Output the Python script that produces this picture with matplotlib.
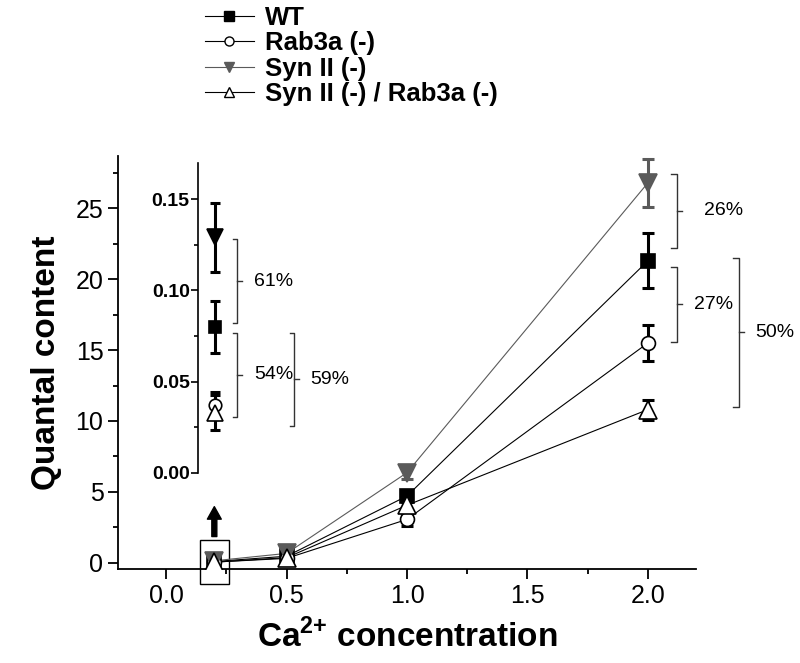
import matplotlib
matplotlib.use('Agg')
import matplotlib.pyplot as plt
from matplotlib.lines import Line2D
from matplotlib.patches import Rectangle

plt.rcParams['font.family'] = ['Liberation Sans', 'DejaVu Sans']
plt.rcParams['mathtext.fontset'] = 'custom'
plt.rcParams['mathtext.rm'] = 'Liberation Sans'
plt.rcParams['mathtext.bf'] = 'Liberation Sans:bold'

# Ca2+ concentration (mM)
conc = [0.2, 0.5, 1.0, 2.0]

labels = ['WT', 'Rab3a (-)', 'Syn II (-)', 'Syn II (-) / Rab3a (-)']
wt = [0.080, 0.45, 4.7, 21.3]
wt_err = [0.0143, 0.2, 0.45, 1.95]
rab = [0.037, 0.30, 3.05, 15.5]
rab_err = [0.0075, 0.15, 0.45, 1.3]
syn = [0.129, 0.65, 6.35, 26.8]
syn_err = [0.019, 0.35, 0.45, 1.7]
dko = [0.033, 0.35, 4.05, 10.8]
dko_err = [0.0097, 0.25, 0.3, 0.7]

# percent brackets: (label, y_low, y_high)
main_brackets = [('26%', 22.2, 27.45), ('27%', 15.6, 20.86), ('50%', 11.0, 21.5)]
inset_brackets = [('61%', 0.082, 0.128), ('54%', 0.0307, 0.0768), ('59%', 0.0256, 0.0768)]

gray = '#5a5a5a'
series = [
    (wt, wt_err, dict(marker='s', mfc='k', mec='k', ms=9.5), 'k'),
    (rab, rab_err, dict(marker='o', mfc='white', mec='k', ms=10), 'k'),
    (syn, syn_err, dict(marker='v', mfc=gray, mec=gray, ms=13), gray),
    (dko, dko_err, dict(marker='^', mfc='white', mec='k', ms=13), 'k'),
]

fig = plt.figure(figsize=(8, 6.63), dpi=100)
ax = fig.add_axes([0.1475, 0.1418, 0.7225, 0.6229])

for vals, errs, mk, c in series:
    ax.plot(conc, vals, color=c, lw=0.8, zorder=2)
for vals, errs, mk, c in series:
    ax.errorbar(conc, vals, yerr=errs, fmt='none', ecolor=c, elinewidth=2.2,
                capsize=4, capthick=2.2, zorder=3)
    ax.plot(conc, vals, linestyle='none', mew=1.2, zorder=4, **mk)

ax.set_xlim(-0.2, 2.2)
ax.set_ylim(-0.45, 28.7)
ax.set_xticks([0.0, 0.5, 1.0, 1.5, 2.0])
ax.set_xticks([0.25, 0.75, 1.25, 1.75], minor=True)
ax.set_yticks([0, 5, 10, 15, 20, 25])
ax.set_yticks([2.5, 7.5, 12.5, 17.5, 22.5, 27.5], minor=True)
ax.set_xticklabels(['0.0', '0.5', '1.0', '1.5', '2.0'])
for s in ['top', 'right']:
    ax.spines[s].set_visible(False)
for s in ['left', 'bottom']:
    ax.spines[s].set_linewidth(1.3)
ax.tick_params(which='major', length=7, width=1.3, labelsize=18, direction='out')
ax.tick_params(which='minor', length=3.5, width=1.3, direction='out')
ax.set_xlabel(r'Ca$^{\mathbf{2{+}}}$ concentration', fontsize=24, fontweight='bold', labelpad=8)
ax.set_ylabel('Quantal content', fontsize=24, fontweight='bold', labelpad=10)

# zoom box and arrow at the lowest concentration
ax.add_patch(Rectangle((0.141, -1.5), 0.121, 3.07, fill=False, lw=1, ec='k', clip_on=False))
ax.annotate('', xy=(0.2, 3.95), xytext=(0.2, 1.84),
            arrowprops=dict(facecolor='k', edgecolor='k', width=3.6, headwidth=10,
                            headlength=9, shrink=0))

def bracket(a, x, y0, y1, arm, tick, text, tx, fs=14):
    a.plot([x - arm, x, x, x - arm], [y0, y0, y1, y1], color='#333333', lw=1, clip_on=False)
    ym = (y0 + y1) / 2
    a.plot([x, x + tick], [ym, ym], color='#333333', lw=1, clip_on=False)
    a.text(tx, ym, text, ha='left', va='center', fontsize=fs, clip_on=False)

bx = [2.12, 2.12, 2.38]
btx = [2.232, 2.19, 2.445]
for (t, y0, y1), x, tx in zip(main_brackets, bx, btx):
    bracket(ax, x, y0, y1, 0.025, 0.02, t, tx)

# inset with the 0.2 mM values
ins = fig.add_axes([198 / 800, 1 - 472.7 / 663, 0.25, 310 / 663])
ins.patch.set_visible(False)
ins.set_xlim(0, 1)
ins.set_ylim(0, 0.17)
for s in ['top', 'right', 'bottom']:
    ins.spines[s].set_visible(False)
ins.spines['left'].set_linewidth(1.2)
ins.set_xticks([])
ins.set_yticks([0, 0.05, 0.10, 0.15])
ins.set_yticks([0.025, 0.075, 0.125], minor=True)
ins.set_yticklabels(['0.00', '0.05', '0.10', '0.15'], fontweight='bold')
ins.tick_params(which='major', length=5, width=1.2, labelsize=14, pad=1)
ins.tick_params(which='minor', length=3, width=1.2)

inset_ms = [8.5, 9, 11.5, 11.5]
for (vals, errs, mk, c), ms in zip(series, inset_ms):
    mk2 = dict(mk)
    mk2['ms'] = ms
    if mk2['mfc'] == gray:
        mk2['mfc'] = 'k'
        mk2['mec'] = 'k'
    ins.errorbar([0.085], [vals[0]], yerr=[errs[0]], fmt='none', ecolor='k',
                 elinewidth=2.2, capsize=3.3, capthick=2.2, zorder=3)
    ins.plot([0.085], [vals[0]], linestyle='none', mew=1.2, zorder=4, **mk2)

ibx = [0.195, 0.195, 0.48]
ibtx = [0.28, 0.28, 0.56]
for (t, y0, y1), x, tx in zip(inset_brackets, ibx, ibtx):
    bracket(ins, x, y0, y1, 0.02, 0.025, t, tx)

handles = []
for vals, errs, mk, c in series:
    handles.append(Line2D([], [], color=c, lw=0.8, marker=mk['marker'], mfc=mk['mfc'],
                          mec=mk['mec'], ms=6.5))
fig.legend(handles, labels, loc='upper left', bbox_to_anchor=(205 / 800, 1 - 6 / 663),
           frameon=False, prop=dict(weight='bold', size=18.5), handlelength=1.9,
           handletextpad=0.45, labelspacing=0.05, borderpad=0, borderaxespad=0)

fig.savefig('out.png', dpi=100)
